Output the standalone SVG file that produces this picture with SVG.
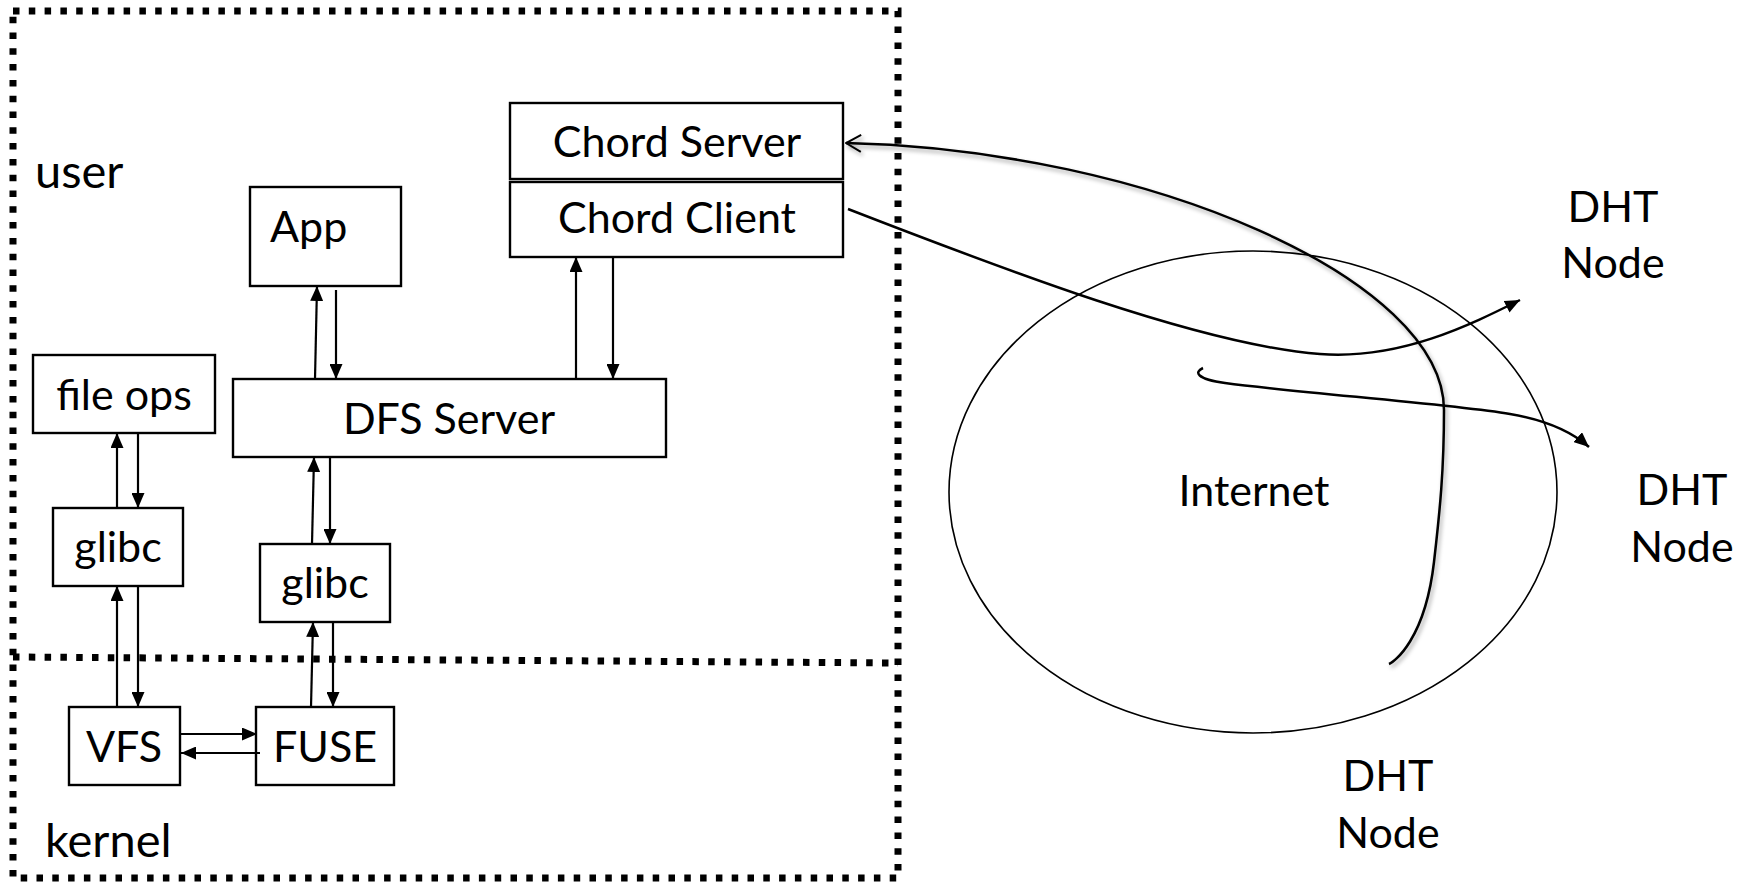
<svg xmlns="http://www.w3.org/2000/svg" width="1752" height="882" viewBox="0 0 1752 882">
  <style>
    .box { fill: #ffffff; stroke: #000000; stroke-width: 2.4; }
    .lbl { font-family: Lato, "Liberation Sans", sans-serif; font-size: 43px; fill: #000000; }
    .mid { text-anchor: middle; }
    .zone { font-family: Lato, "Liberation Sans", sans-serif; font-size: 47px; fill: #000000; }
    .dots { fill: none; stroke: #000000; stroke-width: 7; stroke-dasharray: 6.5 9.3; }
    .link { fill: none; stroke: #000000; stroke-width: 2.2; }
    .net { fill: none; stroke: #000000; stroke-width: 2.5; }
  </style>
  <defs>
    <marker id="head" viewBox="0 0 15 13" refX="15" refY="6.5" markerWidth="15" markerHeight="13" markerUnits="userSpaceOnUse" orient="auto">
      <path d="M0,0 L15,6.5 L0,13 z" fill="#000000"/>
    </marker>
    <marker id="openHead" viewBox="-1 -1 17 19" refX="15" refY="8.5" markerWidth="17" markerHeight="19" markerUnits="userSpaceOnUse" orient="auto">
      <path d="M0,0 L15,8.5 L0,17" fill="none" stroke="#000000" stroke-width="2"/>
    </marker>
    <filter id="softShadow" x="-10%" y="-10%" width="120%" height="120%">
      <feDropShadow dx="2" dy="3" stdDeviation="2" flood-color="#000000" flood-opacity="0.35"/>
    </filter>
  </defs>

  <!-- user / kernel boundary -->
  <g id="boundary">
    <rect class="dots" x="13" y="11" width="885" height="867"/>
    <line class="dots" x1="13" y1="657" x2="898" y2="663"/>
    <text class="zone" x="35" y="188">user</text>
    <text class="zone" x="45" y="857">kernel</text>
  </g>

  <!-- Internet cloud -->
  <g id="internet">
    <ellipse cx="1253" cy="492" rx="304" ry="241" fill="none" stroke="#000000" stroke-width="1.6"/>
    <text class="lbl mid" x="1254" y="506">Internet</text>
  </g>

  <g id="app">
    <rect class="box" x="250" y="187" width="151" height="99"/>
    <text class="lbl" x="270" y="242">App</text>
  </g>

  <g id="chord-server">
    <rect class="box" x="510" y="103" width="333" height="76"/>
    <text class="lbl mid" x="677" y="157">Chord Server</text>
  </g>

  <g id="chord-client">
    <rect class="box" x="510" y="182" width="333" height="75"/>
    <text class="lbl mid" x="677" y="233">Chord Client</text>
  </g>

  <g id="dfs-server">
    <rect class="box" x="233" y="379" width="433" height="78"/>
    <text class="lbl mid" x="449" y="434">DFS Server</text>
  </g>

  <g id="file-ops">
    <rect class="box" x="33" y="355" width="182" height="78"/>
    <text class="lbl mid" x="124" y="410">file ops</text>
  </g>

  <g id="glibc-left">
    <rect class="box" x="53" y="508" width="130" height="78"/>
    <text class="lbl mid" x="118" y="562">glibc</text>
  </g>

  <g id="glibc-right">
    <rect class="box" x="260" y="544" width="130" height="78"/>
    <text class="lbl mid" x="325" y="598">glibc</text>
  </g>

  <g id="vfs">
    <rect class="box" x="69" y="707" width="111" height="78"/>
    <text class="lbl mid" x="124" y="762">VFS</text>
  </g>

  <g id="fuse">
    <rect class="box" x="256" y="707" width="138" height="78"/>
    <text class="lbl mid" x="325" y="762">FUSE</text>
  </g>

  <g id="dht-node-top">
    <text class="lbl mid" x="1613" y="222">DHT</text>
    <text class="lbl mid" x="1613" y="278">Node</text>
  </g>

  <g id="dht-node-right">
    <text class="lbl mid" x="1682" y="505">DHT</text>
    <text class="lbl mid" x="1682" y="562">Node</text>
  </g>

  <g id="dht-node-bottom">
    <text class="lbl mid" x="1388" y="791">DHT</text>
    <text class="lbl mid" x="1388" y="848">Node</text>
  </g>

  <!-- connectors -->
  <g id="connectors">
    <!-- App <-> DFS Server -->
    <line class="link" x1="315" y1="379" x2="317" y2="286" marker-end="url(#head)"/>
    <line class="link" x1="336" y1="290" x2="336" y2="379" marker-end="url(#head)"/>
    <!-- Chord Client <-> DFS Server -->
    <line class="link" x1="576" y1="379" x2="576" y2="257" marker-end="url(#head)"/>
    <line class="link" x1="613" y1="257" x2="613" y2="379" marker-end="url(#head)"/>
    <!-- file ops <-> glibc -->
    <line class="link" x1="117" y1="508" x2="117" y2="433" marker-end="url(#head)"/>
    <line class="link" x1="138" y1="433" x2="138" y2="508" marker-end="url(#head)"/>
    <!-- glibc <-> VFS -->
    <line class="link" x1="117" y1="707" x2="117" y2="586" marker-end="url(#head)"/>
    <line class="link" x1="138" y1="586" x2="138" y2="707" marker-end="url(#head)"/>
    <!-- DFS Server <-> glibc -->
    <line class="link" x1="312" y1="544" x2="314" y2="457" marker-end="url(#head)"/>
    <line class="link" x1="330" y1="457" x2="330" y2="544" marker-end="url(#head)"/>
    <!-- glibc <-> FUSE -->
    <line class="link" x1="311" y1="707" x2="313" y2="622" marker-end="url(#head)"/>
    <line class="link" x1="333" y1="622" x2="333" y2="707" marker-end="url(#head)"/>
    <!-- VFS <-> FUSE -->
    <line class="link" x1="180" y1="734" x2="257" y2="734" marker-end="url(#head)"/>
    <line class="link" x1="260" y1="753" x2="181" y2="753" marker-end="url(#head)"/>

    <!-- requests across the overlay -->
    <path class="net" filter="url(#softShadow)" d="M1389,664 C1394,662 1425,640 1434,562 C1440,510 1444,470 1444,410 C1444,280 1150,150 846,143" marker-end="url(#openHead)"/>
    <path class="net" d="M848,209 C1000,268 1200,345 1320,354 C1400,360 1470,325 1520,300" marker-end="url(#head)"/>
    <path class="net" stroke-width="2.2" d="M1203,368 C1194,372 1196,379 1225,383 C1300,393 1450,404 1510,414 C1545,420 1572,432 1589,447" marker-end="url(#head)"/>
  </g>
</svg>
